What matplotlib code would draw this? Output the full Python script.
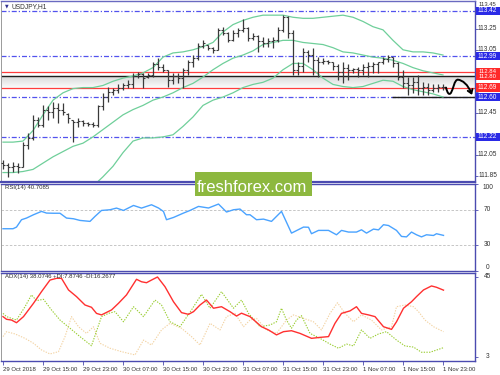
import matplotlib
matplotlib.use("Agg")
import matplotlib.pyplot as plt
import matplotlib.transforms as mtransforms
from matplotlib.patches import Rectangle, FancyArrowPatch
from matplotlib.path import Path
import numpy as np

plt.rcParams['font.family'] = ['Liberation Sans', 'DejaVu Sans']

# ---------------- data ----------------
title = "USDJPY,H1"
date_ticks = [0, 8, 16, 24, 32, 40, 48, 56, 64, 72, 80, 88]
date_labels = ["29 Oct 2018", "29 Oct 15:00", "29 Oct 23:00", "30 Oct 07:00",
               "30 Oct 15:00", "30 Oct 23:00", "31 Oct 07:00", "31 Oct 15:00",
               "31 Oct 23:00", "1 Nov 07:00", "1 Nov 15:00", "1 Nov 23:00"]

bar_high = [112.00, 111.97, 111.98, 111.97, 112.17, 112.26, 112.43, 112.41, 112.52, 112.51,
            112.55, 112.54, 112.54, 112.45, 112.38, 112.40, 112.38, 112.36, 112.36, 112.52,
            112.64, 112.70, 112.69, 112.72, 112.73, 112.76, 112.83, 112.84, 112.83, 112.83,
            112.93, 112.97, 112.91, 112.86, 112.83, 112.83, 112.88, 112.95, 113.00, 113.11,
            113.14, 113.10, 113.08, 113.26, 113.27, 113.22, 113.24, 113.26, 113.34, 113.27,
            113.21, 113.19, 113.17, 113.16, 113.17, 113.27, 113.38, 113.37, 113.24, 112.93,
            113.07, 113.05, 113.07, 112.98, 112.97, 112.95, 112.93, 112.91, 112.93, 112.91,
            112.88, 112.89, 112.91, 112.93, 112.93, 112.93, 112.98, 113.00, 112.98, 112.93,
            112.86, 112.79, 112.79, 112.81, 112.74, 112.73, 112.72, 112.72, 112.72]
bar_low = [111.91, 111.84, 111.89, 111.88, 111.93, 112.10, 112.19, 112.31, 112.31, 112.38,
           112.40, 112.35, 112.43, 112.35, 112.17, 112.31, 112.32, 112.32, 112.31, 112.31,
           112.48, 112.55, 112.62, 112.64, 112.67, 112.69, 112.69, 112.78, 112.69, 112.78,
           112.79, 112.86, 112.84, 112.70, 112.72, 112.73, 112.69, 112.81, 112.89, 112.95,
           113.07, 113.05, 113.02, 113.05, 113.19, 113.12, 113.13, 113.17, 113.22, 113.13,
           113.14, 113.03, 113.08, 113.08, 113.07, 113.12, 113.22, 113.16, 112.81, 112.81,
           112.84, 112.93, 112.81, 112.79, 112.91, 112.91, 112.86, 112.76, 112.73, 112.76,
           112.83, 112.79, 112.81, 112.79, 112.83, 112.83, 112.91, 112.93, 112.89, 112.76,
           112.69, 112.62, 112.64, 112.62, 112.62, 112.62, 112.65, 112.65, 112.67]
bar_open = [111.97, 111.95, 111.93, 111.94, 111.93, 112.14, 112.21, 112.38, 112.33, 112.48,
            112.46, 112.50, 112.48, 112.44, 112.38, 112.36, 112.37, 112.35, 112.34, 112.33,
            112.51, 112.60, 112.65, 112.67, 112.69, 112.71, 112.72, 112.80, 112.82, 112.79,
            112.81, 112.91, 112.89, 112.86, 112.76, 112.80, 112.78, 112.86, 112.93, 112.97,
            113.09, 113.10, 113.07, 113.05, 113.24, 113.21, 113.14, 113.21, 113.24, 113.26,
            113.16, 113.18, 113.13, 113.11, 113.13, 113.14, 113.24, 113.36, 113.21, 112.86,
            112.90, 113.03, 113.00, 112.95, 112.93, 112.94, 112.93, 112.90, 112.84, 112.88,
            112.86, 112.87, 112.86, 112.89, 112.90, 112.91, 112.93, 112.96, 112.98, 112.92,
            112.79, 112.73, 112.71, 112.74, 112.69, 112.70, 112.67, 112.69, 112.70]
bar_close = [111.95, 111.93, 111.94, 111.93, 112.14, 112.21, 112.38, 112.33, 112.48, 112.46,
             112.50, 112.48, 112.46, 112.40, 112.36, 112.37, 112.35, 112.34, 112.33, 112.51,
             112.60, 112.65, 112.67, 112.69, 112.71, 112.72, 112.80, 112.82, 112.78, 112.81,
             112.91, 112.89, 112.86, 112.76, 112.80, 112.78, 112.86, 112.93, 112.97, 113.09,
             113.11, 113.07, 113.05, 113.24, 113.21, 113.14, 113.21, 113.24, 113.26, 113.16,
             113.18, 113.13, 113.11, 113.13, 113.14, 113.24, 113.36, 113.21, 112.86, 112.90,
             113.03, 113.00, 112.95, 112.93, 112.94, 112.93, 112.90, 112.84, 112.88, 112.86,
             112.87, 112.86, 112.89, 112.90, 112.91, 112.93, 112.96, 112.98, 112.92, 112.79,
             112.73, 112.71, 112.74, 112.69, 112.70, 112.67, 112.69, 112.70, 112.70]

bb_idx = list(range(0, 89, 2))
bb_upper = [112.17, 112.17, 112.18, 112.28, 112.43, 112.57, 112.64, 112.68, 112.69, 112.69,
            112.71, 112.75, 112.78, 112.80, 112.83, 112.88, 112.98, 113.02, 113.03, 113.05,
            113.08, 113.12, 113.22, 113.29, 113.33, 113.36, 113.38, 113.38, 113.38, 113.36,
            113.35, 113.35, 113.36, 113.37, 113.38, 113.36, 113.32, 113.27, 113.24, 113.14,
            113.05, 113.03, 113.03, 113.02, 113.00]
bb_middle = [111.88, 111.88, 111.89, 111.91, 111.97, 112.03, 112.08, 112.13, 112.16, 112.22,
             112.29, 112.36, 112.43, 112.48, 112.52, 112.57, 112.60, 112.64, 112.69, 112.73,
             112.79, 112.86, 112.92, 112.97, 113.00, 113.04, 113.10, 113.12, 113.14, 113.14,
             113.12, 113.11, 113.10, 113.07, 113.03, 113.02, 113.00, 112.98, 112.97, 112.95,
             112.92, 112.88, 112.85, 112.83, 112.81]
bb_lower_idx = list(range(18, 89, 2))
bb_lower = [111.75, 111.84, 111.94, 112.07, 112.18, 112.21, 112.21, 112.22, 112.24, 112.32,
            112.41, 112.52, 112.57, 112.60, 112.64, 112.69, 112.72, 112.74, 112.78, 112.86,
            112.92, 112.92, 112.86, 112.78, 112.72, 112.70, 112.69, 112.70, 112.73, 112.76,
            112.75, 112.70, 112.67, 112.65, 112.63, 112.60]

blue_levels = [113.42, 112.99, 112.60, 112.22]
red_levels = [112.84, 112.69]
black_level = 112.80
support_level = 112.60
support_start = 77.8
zone_top, zone_bottom = 112.80, 112.69
top_tick = 113.45
price_ticks = [113.25, 113.05, 112.45, 112.05, 111.85]
hidden_ticks = [112.85, 112.65, 112.25]
single_labels = [(113.42, "113.42", "blue"), (112.99, "112.99", "blue"),
                 (112.69, "112.69", "red"), (112.60, "112.60", "blue"),
                 (112.22, "112.22", "blue")]
pair_labels = [(112.84, "112.84"), (112.80, "112.80")]

# forecast arrow path (bar index, price)
arrow_pts = [(88.6, 112.69), (88.9, 112.635), (89.2, 112.615), (89.6, 112.64),
             (90.0, 112.67), (90.3, 112.77), (91.0, 112.765),
             (91.9, 112.76), (93.0, 112.72), (93.8, 112.62)]

rsi_label = "RSI(14) 40.7085"
rsi_idx = [0, 2, 2.7, 3.7, 4.7, 6.1, 7.7, 8.7, 10.1, 11.4, 12.7, 14.1, 15.4, 17.4, 18.4,
           19.7, 21.4, 22.7, 24.1, 26.1, 27.7, 29.7, 31.1, 32.1, 32.7, 34.1, 36.1, 37.4,
           39.1, 41.1, 43.1, 44.7, 46.1, 47.4, 48.7, 49.4, 50.7, 52.1, 53.7, 55.7, 57.7,
           60.1, 61.1, 61.7, 63.1, 65.1, 66.7, 67.7, 69.1, 70.7, 71.7, 72.7, 74.1, 75.1,
           76.1, 77.1, 78.7, 79.7, 80.7, 81.7, 82.7, 83.7, 84.7, 86.1, 86.7, 88.1]
rsi_val = [48.3, 48.3, 50.2, 58.6, 60.5, 64.3, 68.1, 66.2, 66.0, 66.0, 60.5, 59.7, 57.8,
           56.7, 62.4, 69.2, 70.0, 71.9, 69.2, 74.9, 71.9, 75.7, 72.0, 68.0, 58.6, 61.2,
           66.2, 69.2, 73.8, 72.0, 76.5, 67.4, 70.0, 70.8, 64.3, 64.3, 58.6, 59.3, 56.7,
           68.1, 43.3, 50.2, 50.0, 42.6, 46.4, 46.4, 41.4, 46.4, 44.5, 44.5, 47.1, 43.3,
           47.9, 47.0, 52.9, 52.0, 46.4, 39.5, 39.0, 44.5, 41.4, 39.0, 41.4, 40.6, 42.6, 40.7]
rsi_levels = [70, 30]

adx_label = "ADX(14) 38.0746 +DI:7.8746 -DI:16.2677"
adx_idx = [0, 0.7, 1.7, 2.7, 4.1, 6.1, 7.7, 9.4, 10.7, 11.7, 13.1, 14.7, 16.4, 17.7, 18.7,
           19.7, 21.7, 23.1, 24.7, 26.7, 27.7, 28.7, 29.7, 30.9, 32.4, 34.1, 35.7, 37.1,
           38.1, 39.4, 40.7, 42.1, 43.7, 45.4, 46.7, 47.7, 49.4, 51.7, 53.1, 54.7, 56.1,
           57.7, 59.4, 61.7, 63.4, 65.1, 66.4, 67.7, 69.4, 70.7, 71.7, 73.1, 74.4, 76.1,
           77.7, 78.7, 80.1, 81.7, 82.7, 84.1, 85.7, 86.7, 88.1]
adx_val = [24.2, 22.8, 22.4, 21.0, 24.2, 31.2, 37.3, 43.4, 44.3, 44.3, 38.2, 34.7, 30.3,
           29.1, 25.9, 25.1, 27.7, 31.2, 35.6, 43.8, 42.5, 42.0, 43.4, 45.0, 39.9, 32.0,
           26.3, 25.4, 26.8, 30.3, 32.9, 28.6, 29.4, 26.8, 24.5, 26.0, 24.2, 18.9, 17.2,
           14.6, 16.3, 16.8, 15.4, 12.8, 13.3, 13.7, 20.7, 25.9, 27.2, 29.4, 25.9, 25.1,
           24.2, 18.9, 17.5, 21.5, 28.6, 32.0, 34.7, 38.2, 40.3, 39.6, 38.1]
pdi_idx = [0, 0.7, 2.7, 4.4, 5.7, 6.7, 8.1, 9.7, 11.4, 13.4, 15.4, 17.7, 19.7, 21.1, 22.4,
           24.1, 26.1, 28.1, 30.4, 31.7, 33.4, 35.4, 37.7, 39.7, 41.4, 43.7, 46.1, 47.7,
           49.1, 51.4, 53.4, 54.7, 55.7, 56.7, 57.7, 58.7, 59.7, 61.4, 63.4, 65.4, 67.1,
           68.7, 70.1, 71.7, 73.4, 75.1, 76.7, 78.7, 80.4, 82.1, 83.7, 85.4, 87.1, 88.1]
pdi_val = [25.9, 24.2, 22.4, 29.4, 35.6, 32.6, 33.3, 27.7, 22.4, 18.1, 13.7, 8.9, 24.2,
           25.9, 26.8, 21.5, 29.4, 24.2, 32.9, 30.3, 21.5, 18.9, 27.7, 35.9, 28.6, 37.3,
           28.6, 32.9, 25.9, 18.9, 19.8, 21.5, 28.6, 22.4, 18.1, 22.4, 24.7, 15.4, 12.8,
           9.8, 7.6, 9.8, 8.8, 17.2, 12.8, 15.1, 16.3, 11.9, 8.8, 8.2, 5.5, 5.5, 7.0, 7.9]
mdi_idx = [0, 0.7, 2.4, 4.4, 6.1, 7.7, 9.4, 11.1, 12.4, 13.7, 15.1, 16.7, 18.1, 19.4, 21.4,
           23.7, 26.4, 28.1, 29.7, 31.7, 33.4, 35.7, 37.7, 39.4, 41.4, 43.4, 44.7, 46.4,
           48.1, 49.4, 50.7, 52.7, 54.7, 56.7, 58.1, 60.1, 62.1, 63.7, 65.4, 66.9, 68.4,
           70.1, 71.7, 73.7, 75.7, 77.7, 78.7, 80.4, 82.1, 83.1, 84.4, 86.1, 88.1]
mdi_val = [13.7, 16.3, 15.1, 12.8, 10.2, 6.7, 4.6, 5.8, 13.7, 24.2, 18.9, 15.4, 18.9,
           10.2, 7.6, 5.8, 4.1, 11.9, 9.3, 17.2, 20.7, 18.1, 13.7, 9.3, 20.7, 17.2, 24.2,
           25.9, 18.9, 22.4, 23.3, 17.2, 15.4, 22.4, 25.1, 23.3, 21.5, 17.2, 25.9, 31.5,
           25.9, 21.5, 25.1, 22.4, 17.2, 18.9, 29.4, 30.3, 29.4, 26.8, 22.4, 18.9, 16.3]

# ---------------- styles ----------------
W, H = 500, 375
FRAME = '#4b4bb0'
TXT = '#303030'
BLUE_BOX = '#2a2ae6'
RED_BOX = '#ff2a2a'
BB_COL = '#6fcf9a'
LBL_FS = 4.7
SMALL_FS = 4.3

fig = plt.figure(figsize=(W / 100, H / 100), dpi=100)
fig.patch.set_facecolor('white')


def rect(top, bottom, left=1, right=475):
    return [left / W, 1 - bottom / H, (right - left) / W, (bottom - top) / H]


ax = fig.add_axes(rect(1, 182))
ax_rsi = fig.add_axes(rect(183.5, 271), sharex=ax)
ax_adx = fig.add_axes(rect(273, 361), sharex=ax)

for a in (ax, ax_rsi, ax_adx):
    a.set_facecolor('white')
    for s in a.spines.values():
        s.set_color(FRAME)
        s.set_linewidth(1.0)
    a.spines['left'].set_color('#9a9a9a')
    a.spines['left'].set_linewidth(0.7)
    a.yaxis.tick_right()
    a.tick_params(axis='y', direction='out', length=2, width=0.6, color=FRAME,
                  labelright=False, labelleft=False)
    a.tick_params(axis='x', bottom=False, labelbottom=False)
ax.spines['bottom'].set_linewidth(1.6)
ax.spines['top'].set_color('#6a6ac0')

ax.set_xlim(-0.4, 94.4)

# ---------------- main panel ----------------
ax.set_ylim(111.79, 113.515)
idx = np.arange(len(bar_close))

# shaded zone
grad = np.linspace(0.0, 1.0, 50).reshape(-1, 1)
ax.imshow(grad, extent=(-0.4, 94.4, zone_bottom, zone_top), aspect='auto',
          cmap=matplotlib.colors.LinearSegmentedColormap.from_list('z', ['#fbfbfb', '#d9d9d9']),
          origin='lower', zorder=0.5, interpolation='bilinear')

for lv in blue_levels:
    ax.axhline(lv, color='#5252ee', lw=0.9, ls=(0, (4, 1.6, 1, 1.6)), zorder=1)
for lv in red_levels:
    ax.axhline(lv, color='#ff3c3c', lw=0.9, zorder=1.2)
ax.axhline(black_level, color='#1e1e1e', lw=1.0, zorder=1.3)
ax.hlines(support_level, support_start, 94.4, color='#1e1e1e', lw=1.0, zorder=1.4)

ax.plot(bb_idx, bb_upper, color=BB_COL, lw=0.9, zorder=2)
ax.plot(bb_idx, bb_middle, color=BB_COL, lw=0.9, zorder=2)
ax.plot(bb_lower_idx, bb_lower, color=BB_COL, lw=0.9, zorder=2)

BAR = '#3a3a3a'
tick = 0.38
ax.vlines(idx, bar_low, bar_high, color=BAR, lw=0.9, zorder=3)
ax.hlines(bar_open, idx - tick, idx, color=BAR, lw=0.8, zorder=3)
ax.hlines(bar_close, idx, idx + tick, color=BAR, lw=0.8, zorder=3)

# arrow
codes = [Path.MOVETO] + [Path.CURVE4] * 9
arrow = FancyArrowPatch(path=Path(arrow_pts, codes),
                        arrowstyle='->,head_length=2.6,head_width=1.8',
                        color='black', lw=1.4, zorder=5)
ax.add_patch(arrow)

# right-hand price scale
trans = mtransforms.blended_transform_factory(ax.transAxes, ax.transData)
ax.set_yticks([top_tick] + price_ticks + hidden_ticks)
x_lab = (487.5 - 1) / 474
bx0 = (476 - 1) / 474
bw = 23.5 / 474
bh = 8.4 / 105
for p in price_ticks:
    ax.text(x_lab, p, f"{p:.2f}", transform=trans, ha='center', va='center',
            fontsize=LBL_FS, color=TXT, clip_on=False, zorder=4)
# top scale label sits just above the 113.42 box
ax.text(x_lab, blue_levels[0] + bh / 2, f"{top_tick:.2f}", transform=trans,
        ha='center', va='bottom', fontsize=4.2, color=TXT, clip_on=False, zorder=4)

for p, s, c in single_labels:
    ax.add_patch(Rectangle((bx0, p - bh / 2), bw, bh, transform=trans,
                           facecolor=BLUE_BOX if c == 'blue' else RED_BOX,
                           edgecolor='none', clip_on=False, zorder=10))
    ax.text(x_lab, p, s, transform=trans, ha='center', va='center',
            fontsize=LBL_FS, color='white', clip_on=False, zorder=11)
# merged red box for the two close resistance labels
(p_hi, s_hi), (p_lo, s_lo) = pair_labels
mid = (p_hi + p_lo) / 2
ax.add_patch(Rectangle((bx0, p_lo - bh / 2), bw, (p_hi - p_lo) + bh, transform=trans,
                       facecolor=RED_BOX, edgecolor='none', clip_on=False, zorder=10))
ax.text(x_lab, mid, s_hi, transform=trans, ha='center', va='bottom',
        fontsize=4.3, color='white', clip_on=False, zorder=11)
ax.text(x_lab, mid, s_lo, transform=trans, ha='center', va='top',
        fontsize=4.3, color='white', clip_on=False, zorder=11)

ax.text(0.009, 0.972, "\u25BC", transform=ax.transAxes, fontsize=3.4,
        color='#303090', ha='left', va='center', family='DejaVu Sans')
ax.text(0.023, 0.972, title, transform=ax.transAxes, fontsize=4.8, color=TXT,
        ha='left', va='center')

# ---------------- RSI ----------------
ax_rsi.set_ylim(0, 100)
for lv in rsi_levels:
    ax_rsi.axhline(lv, color='#bdbdbd', lw=0.6, ls=(0, (3, 2)), zorder=1)
ax_rsi.plot(rsi_idx, rsi_val, color='#4aa3ff', lw=1.0, zorder=2)
ax_rsi.set_yticks([100, 70, 30, 0])
tr = mtransforms.blended_transform_factory(ax_rsi.transAxes, ax_rsi.transData)
ax_rsi.text(x_lab, 100, "100", transform=tr, ha='center', va='top', fontsize=LBL_FS,
            color=TXT, clip_on=False)
ax_rsi.text(x_lab, 70, "70", transform=tr, ha='center', va='center', fontsize=LBL_FS,
            color=TXT, clip_on=False)
ax_rsi.text(x_lab, 30, "30", transform=tr, ha='center', va='center', fontsize=LBL_FS,
            color=TXT, clip_on=False)
ax_rsi.text(x_lab, 0, "0", transform=tr, ha='center', va='bottom', fontsize=LBL_FS,
            color=TXT, clip_on=False)
ax_rsi.text(0.008, 0.955, rsi_label, transform=ax_rsi.transAxes, fontsize=SMALL_FS,
            color=TXT, ha='left', va='center')

# ---------------- ADX ----------------
ax_adx.set_ylim(0.9, 47.1)
ax_adx.plot(mdi_idx, mdi_val, color='#f3d3a3', lw=0.8, ls=(0, (1.2, 1.2)), zorder=1)
ax_adx.plot(pdi_idx, pdi_val, color='#9acd32', lw=0.8, ls=(0, (1.2, 1.2)), zorder=2)
ax_adx.plot(adx_idx, adx_val, color='#ff3030', lw=1.0, zorder=3)
ax_adx.set_yticks([45, 3])
ta = mtransforms.blended_transform_factory(ax_adx.transAxes, ax_adx.transData)
ax_adx.text(x_lab, 45, "45", transform=ta, ha='center', va='center', fontsize=LBL_FS,
            color=TXT, clip_on=False)
ax_adx.text(x_lab, 3, "3", transform=ta, ha='center', va='center', fontsize=LBL_FS,
            color=TXT, clip_on=False)
ax_adx.text(0.008, 0.955, adx_label, transform=ax_adx.transAxes, fontsize=SMALL_FS,
            color=TXT, ha='left', va='center')

ax_adx.set_xticks(date_ticks)
ax_adx.set_xticklabels(date_labels)
ax_adx.tick_params(axis='x', bottom=True, labelbottom=True, direction='out', length=3,
                   width=0.6, color=FRAME, pad=1.5, labelsize=SMALL_FS, labelcolor=TXT)
for lab in ax_adx.get_xticklabels():
    lab.set_ha('left')

# ---------------- watermark ----------------
fig.add_artist(Rectangle((195 / W, 1 - 196 / H), 117 / W, 24 / H, transform=fig.transFigure,
                         facecolor='#8db83f', edgecolor='none', zorder=20))
fig.text(197 / W, 1 - 192.5 / H, "freshforex.com", fontsize=12, color='white',
         ha='left', va='baseline', zorder=21)

fig.savefig("out.png", dpi=100, facecolor='white')
